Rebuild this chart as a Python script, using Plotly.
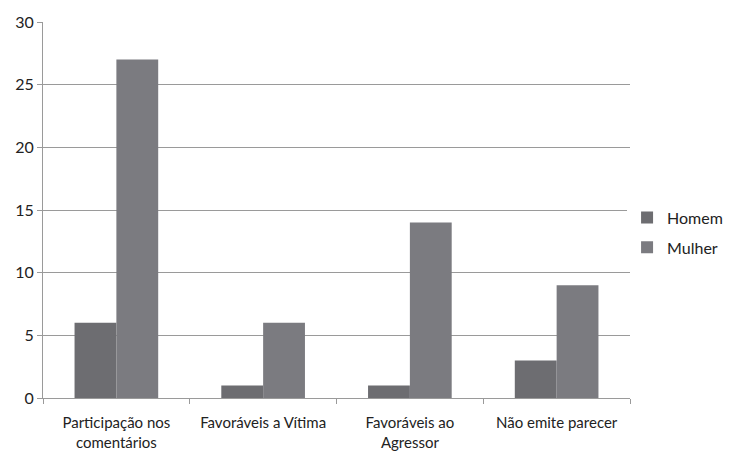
import plotly.graph_objects as go

categories = ["Participação nos<br>comentários", "Favoráveis a Vítima",
              "Favoráveis ao<br>Agressor", "Não emite parecer"]
homem = [6, 1, 1, 3]
mulher = [27, 6, 14, 9]

font_family = "Lato, 'Open Sans', sans-serif"
axis_color = "#9a9a9a"
text_color = "#222222"

fig = go.Figure()
fig.add_trace(go.Bar(name="Homem", x=categories, y=homem,
                     marker=dict(color="#6d6d71", line=dict(width=0)),
                     legendgroup="h"))
fig.add_trace(go.Bar(name="Mulher", x=categories, y=mulher,
                     marker=dict(color="#7b7b80", line=dict(width=0)),
                     legendgroup="m"))

fig.update_layout(
    width=734, height=452,
    margin=dict(l=43, r=104, t=22, b=54, autoexpand=False),
    paper_bgcolor="white", plot_bgcolor="white",
    barmode="group", bargap=0.43, bargroupgap=0,
    font=dict(family=font_family, size=15, color=text_color),
    legend=dict(x=0.995, y=0.44, xanchor="left", yanchor="middle",
                tracegroupgap=6, font=dict(size=16, color=text_color),
                itemwidth=30),
    xaxis=dict(type="category", showline=True, linecolor=axis_color,
               linewidth=1, ticks="outside", tickson="boundaries",
               ticklen=5, tickcolor=axis_color, showgrid=False,
               ticklabelstandoff=11, tickfont=dict(size=15)),
    yaxis=dict(range=[0, 30], dtick=5, showline=True, linecolor=axis_color,
               linewidth=1, ticks="outside", ticklen=5, tickcolor=axis_color,
               showgrid=True, gridcolor=axis_color, gridwidth=1,
               zeroline=False, tickfont=dict(size=16)),
)

fig.write_html("out.html")
